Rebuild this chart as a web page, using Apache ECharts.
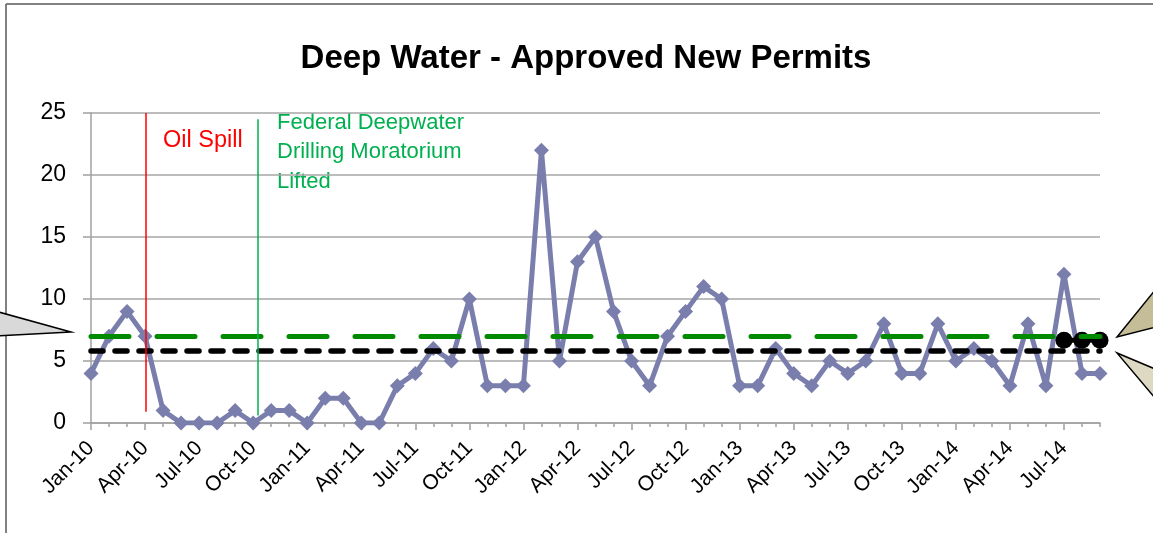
<!DOCTYPE html>
<html>
<head>
<meta charset="utf-8">
<script src="https://cdn.jsdelivr.net/npm/echarts@6/dist/echarts.min.js"></script>
<style>
html,body{margin:0;padding:0;background:#fff;}
#chart{width:1153px;height:533px;}
</style>
</head>
<body>
<div id="chart"></div>
<script>
const categories = [
  'Jan-10','Feb-10','Mar-10','Apr-10','May-10','Jun-10','Jul-10','Aug-10','Sep-10','Oct-10','Nov-10','Dec-10',
  'Jan-11','Feb-11','Mar-11','Apr-11','May-11','Jun-11','Jul-11','Aug-11','Sep-11','Oct-11','Nov-11','Dec-11',
  'Jan-12','Feb-12','Mar-12','Apr-12','May-12','Jun-12','Jul-12','Aug-12','Sep-12','Oct-12','Nov-12','Dec-12',
  'Jan-13','Feb-13','Mar-13','Apr-13','May-13','Jun-13','Jul-13','Aug-13','Sep-13','Oct-13','Nov-13','Dec-13',
  'Jan-14','Feb-14','Mar-14','Apr-14','May-14','Jun-14','Jul-14','Aug-14','Sep-14'
];
const permits = [
  4,7,9,7,1,0,0,0,1,0,1,1,
  0,2,2,0,0,3,4,6,5,10,3,3,
  3,22,5,13,15,9,5,3,7,9,11,10,
  3,3,6,4,3,5,4,5,8,4,4,8,
  5,6,5,3,8,3,12,4,4
];
const recentMonths = ['Jul-14','Aug-14','Sep-14'];
const recentAverage = 6.67;
const greenLevel = 7;
const blackLevel = 5.8;
const yTicks = [0,5,10,15,20,25];
const events = [
  { name: 'Oil Spill', pos: 3.03, top: 25, bottom: 0.9, color: '#ff0000' },
  { name: 'Moratorium Lifted', pos: 9.25, top: 24.5, bottom: 0.6, color: '#00b050' }
];

const recentData = categories.map(c => recentMonths.includes(c) ? recentAverage : '-');

const FONT = '"Liberation Sans", Arial, sans-serif';
const GRID = { left: 91, right: 53, top: 113, bottom: 110 };
const chart = echarts.init(document.getElementById('chart'), null, { renderer: 'canvas' });

const option = {
  animation: false,
  backgroundColor: '#ffffff',
  title: {
    text: 'Deep Water - Approved New Permits',
    left: 581,
    textAlign: 'center',
    top: 37,
    textStyle: { fontFamily: FONT, fontSize: 33, fontWeight: 'bold', color: '#000' }
  },
  grid: GRID,
  xAxis: [
    {
      type: 'category', data: categories, boundaryGap: false,
      axisLine: { lineStyle: { color: '#a0a0a0', width: 1.5 } },
      axisTick: { show: true, interval: 0, length: 4, lineStyle: { color: '#a0a0a0', width: 1.5 } },
      axisLabel: { interval: 2, rotate: 45, fontFamily: FONT, fontSize: 21, color: '#000', margin: 22 },
      splitLine: { show: false }
    },
    {
      type: 'category', data: categories, boundaryGap: false, position: 'bottom',
      axisLine: { show: false },
      axisTick: { show: true, interval: 2, length: 7, lineStyle: { color: '#a0a0a0', width: 1.5 } },
      axisLabel: { show: false },
      splitLine: { show: false }
    },
    {
      type: 'value', min: 0, max: categories.length - 1, show: false
    }
  ],
  yAxis: {
    type: 'value', min: yTicks[0], max: yTicks[yTicks.length - 1], interval: 5,
    axisLine: { show: true, lineStyle: { color: '#a0a0a0', width: 1.5 } },
    axisTick: { show: true, length: 8, lineStyle: { color: '#a0a0a0', width: 1.5 } },
    axisLabel: { fontFamily: FONT, fontSize: 23, color: '#000', margin: 25, padding: [6, 0, 0, 0] },
    splitLine: { lineStyle: { color: '#a6a6a6', width: 1.5 } }
  },
  series: [
    {
      name: 'Approved New Permits', type: 'line', xAxisIndex: 0, data: permits, z: 2,
      lineStyle: { color: '#7a7eac', width: 5 },
      itemStyle: { color: '#7a7eac' },
      symbol: 'diamond', symbolSize: 15, showAllSymbol: true
    },
    {
      name: 'Levels', type: 'line', xAxisIndex: 2, data: [], z: 3,
      markLine: {
        silent: true, symbol: ['none', 'none'], label: { show: false }, animation: false,
        data: [
          { yAxis: greenLevel, lineStyle: { color: '#008a00', width: 5, type: [38, 28], cap: 'round' } },
          { yAxis: blackLevel, lineStyle: { color: '#000000', width: 5.5, type: [12, 12], cap: 'round' } }
        ]
      }
    },
    {
      name: 'Recent Average', type: 'line', xAxisIndex: 0, data: recentData, z: 4,
      lineStyle: { color: '#000', width: 5 },
      itemStyle: { color: '#000' },
      symbol: 'circle', symbolSize: 17, showAllSymbol: true, showSymbol: true
    },
    {
      name: 'Events', type: 'line', xAxisIndex: 2, data: [], z: 1,
      markLine: {
        silent: true, symbol: ['none', 'none'], label: { show: false }, animation: false,
        data: events.map(e => [
          { coord: [e.pos, e.top], lineStyle: { color: e.color, width: 1.5, type: 'solid' } },
          { coord: [e.pos, e.bottom] }
        ])
      }
    }
  ],
  graphic: [
    { type: 'line', shape: { x1: 6, y1: 4, x2: 1160, y2: 4 }, style: { stroke: '#595959', lineWidth: 1.5 } },
    { type: 'line', shape: { x1: 6, y1: 4, x2: 6, y2: 540 }, style: { stroke: '#595959', lineWidth: 1.5 } },
    { type: 'polygon', shape: { points: [[-5, 311], [71, 332], [-5, 336]] }, style: { fill: '#d9d9d9', stroke: '#000', lineWidth: 1.5 } },
    { type: 'polygon', shape: { points: [[1160, 284], [1117, 337], [1160, 326]] }, style: { fill: '#c4bd97', stroke: '#000', lineWidth: 1.5 } },
    { type: 'polygon', shape: { points: [[1160, 371], [1117, 353], [1160, 404]] }, style: { fill: '#ddd9c3', stroke: '#000', lineWidth: 1.5 } },
    { type: 'text', x: 163, y: 141, style: { text: 'Oil Spill', fill: '#ff0000', font: '23.5px ' + FONT, textVerticalAlign: 'middle' } },
    { type: 'text', x: 277, y: 108, style: { text: 'Federal Deepwater\nDrilling Moratorium\nLifted', fill: '#00b050', font: '22px ' + FONT, lineHeight: 29.5, textVerticalAlign: 'top' } }
  ]
};
chart.setOption(option);
</script>
</body>
</html>
